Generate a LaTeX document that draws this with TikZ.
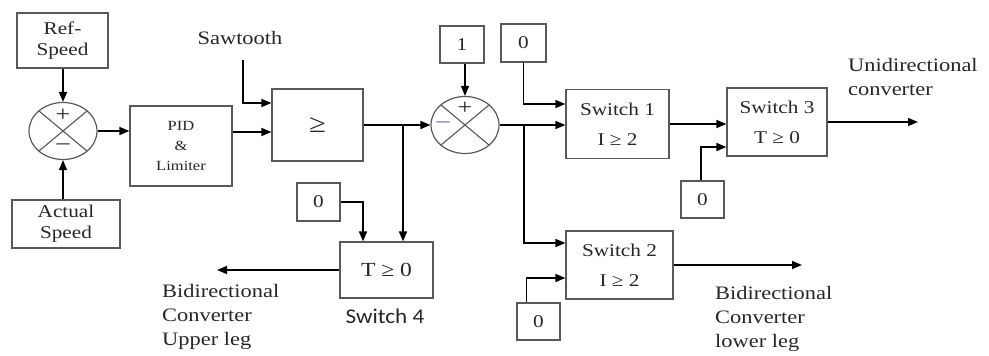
\documentclass[tikz,border=0pt]{standalone}
\usepackage{fontspec}
\setmainfont{Liberation Serif}[FakeStretch=1.18]
\newfontfamily\swfont{Carlito}[FakeStretch=1.1]
\usetikzlibrary{arrows.meta,shapes.geometric,calc}
\begin{document}
\begin{tikzpicture}[x=1pt,y=-1pt,
 box/.style={draw=black!65,line width=1.2pt,rectangle,inner sep=0pt,text=black!85,align=center,font=\fontsize{18}{21}\selectfont},
 swbox/.style={box,font=\fontsize{18}{30}\selectfont},
 sumnode/.style={draw=black!65,line width=1.2pt,ellipse,minimum width=68pt,minimum height=57pt,inner sep=0pt},
 xline/.style={draw=black!65,line width=1.1pt},
 sign/.style={inner sep=0pt,font=\fontsize{22}{22}\selectfont,text=black!85},
 arr/.style={line width=1.5pt,-{Triangle[length=10pt,width=8pt]}},
 lbl/.style={text=black!85,inner sep=0pt,align=left,font=\fontsize{19}{24}\selectfont},
]
\useasboundingbox (0,0) rectangle (989,356);

% left part
\node[box,minimum width=91pt,minimum height=55pt] (ref) at (62.5,40.5) {Ref-\\Speed};
\node[box,minimum width=108pt,minimum height=48pt] (act) at (66,224) {Actual\\Speed};
\node[sumnode] (s1) at (63,131) {};
\draw[xline] ($(s1.center)+(-24,-20)$) -- ($(s1.center)+(24,20)$);
\draw[xline] ($(s1.center)+(-24,20)$) -- ($(s1.center)+(24,-20)$);
\node[sign] at ($(s1.center)+(0,-16)$) {+};
\node[sign] at ($(s1.center)+(0,16)$) {–};
\node[box,minimum width=102pt,minimum height=80pt,font=\fontsize{14}{20}\selectfont] (pid) at (181,146) {PID\\\&\\Limiter};

\node[box,minimum width=91pt,minimum height=72pt,font=\fontsize{26}{26}\selectfont] (ge) at (317.5,125) {≥};
\node[lbl] (saw) at (240,38) {Sawtooth};
\coordinate (sawin) at (243,60);

% second summing junction
\node[box,minimum width=44pt,minimum height=37pt] (one) at (462,44.5) {1};
\node[sumnode] (s2) at (465,125) {};
\draw[xline] ($(s2.center)+(-24,-20)$) -- ($(s2.center)+(24,20)$);
\draw[xline] ($(s2.center)+(-24,20)$) -- ($(s2.center)+(24,-20)$);
\node[sign] at ($(s2.center)+(0,-17)$) {+};
\node[sign,text=black!45!blue!60] at ($(s2.center)+(-22,0)$) {–};

\node[box,minimum width=45pt,minimum height=38pt] (z1) at (523.5,43) {0};
\node[swbox,minimum width=103pt,minimum height=69pt] (sw1) at (617.5,124) {Switch 1\\I ≥ 2};
\node[swbox,minimum width=100pt,minimum height=68pt] (sw3) at (777,122) {Switch 3\\T ≥ 0};
\node[box,minimum width=43pt,minimum height=37pt] (z3) at (702.5,199.5) {0};
\node[swbox,minimum width=107pt,minimum height=68pt] (sw2) at (619.5,265) {Switch 2\\I ≥ 2};
\node[box,minimum width=43pt,minimum height=37pt] (z2) at (538.5,321.5) {0};

\node[box,minimum width=43pt,minimum height=38pt] (z4) at (318.5,202) {0};
\node[box,minimum width=93pt,minimum height=56pt,font=\fontsize{20}{20}\selectfont] (sw4) at (386.5,270) {T ≥ 0};
\node[inner sep=0pt,text=black!85,font=\swfont\fontsize{21}{21}\selectfont] (sw4lbl) at (385,316) {Switch 4};

% outputs
\coordinate (out3) at (918,122);
\coordinate (out2) at (802,265);
\coordinate (out4) at (217,270);
\node[lbl,anchor=north west] (l3) at (848,58) {Unidirectional\\converter};
\node[lbl,anchor=north west] (l4) at (162,284) {Bidirectional\\Converter\\Upper leg};
\node[lbl,anchor=north west] (l2) at (715,286) {Bidirectional\\Converter\\lower leg};

% junctions
\coordinate (j1) at (403,125);
\coordinate (j2) at (524,125);

% connectors
\draw[arr] (ref.south -| s1.north) -- (s1.north);
\draw[arr] (act.north -| s1.south) -- (s1.south);
\draw[arr] (s1.east) -- (s1.east -| pid.west);
\draw[arr] (sawin) |- ([yshift=22pt]ge.west);
\draw[arr] ([yshift=14pt]pid.east) -- ([yshift=14pt]pid.east -| ge.west);
\draw[arr] (ge.east) -- (s2.west);
\draw[arr] (j1) -- (j1 |- sw4.north);
\draw[arr] (z4.east) -| ([xshift=-23.5pt]sw4.north);
\draw[arr] (sw4.west) -- (out4);
\draw[arr] (one.south -| s2.north) -- (s2.north);
\draw[arr] (s2.east) -- (s2.east -| sw1.west);
\draw[arr] (j2) |- ([yshift=22pt]sw2.west);
\draw[arr] (z1.south) |- ([yshift=20pt]sw1.west);
\draw[arr] ([xshift=-12pt]z2.north) |- ([yshift=-13pt]sw2.west);
\draw[arr] (sw1.east) -- (sw1.east -| sw3.west);
\draw[arr] ([xshift=-1.5pt]z3.north) |- ([yshift=-25pt]sw3.west);
\draw[arr] (sw3.east) -- (out3);
\draw[arr] (sw2.east) -- (out2);
\end{tikzpicture}
\end{document}
